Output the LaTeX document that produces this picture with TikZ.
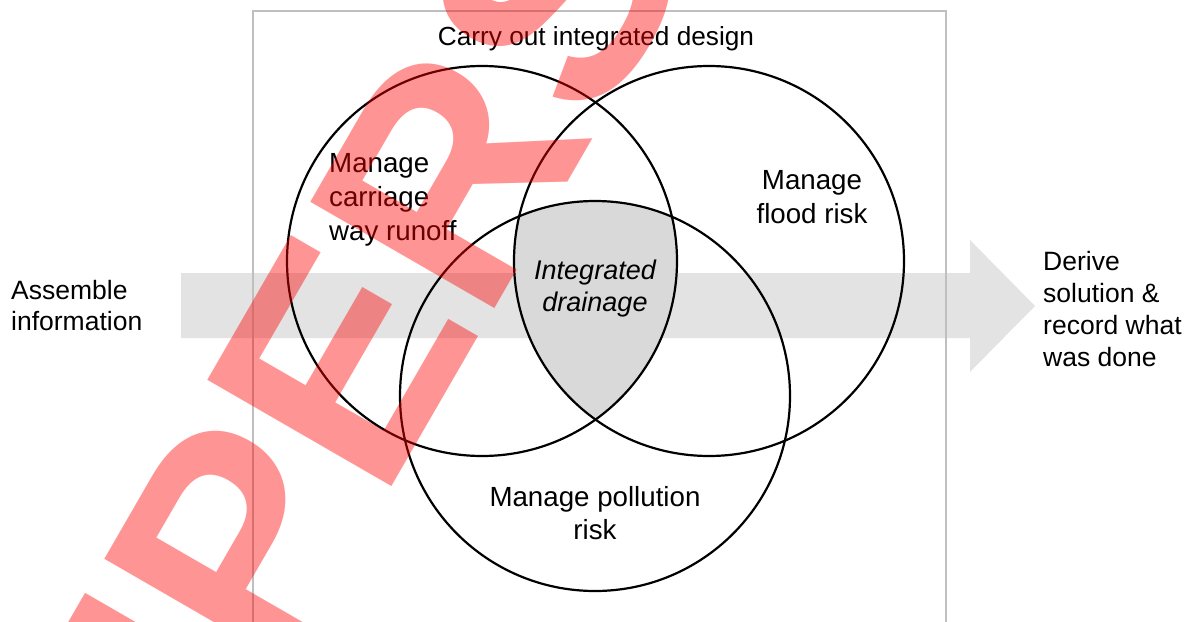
\documentclass[tikz,border=0pt]{standalone}
\usepackage{fontspec}
\setmainfont{Liberation Sans}
\begin{document}
\begin{tikzpicture}[x=1pt,y=-1pt,
  lbl/.style={inner sep=0pt,font=\fontsize{26.5}{33}\selectfont,text=black},
  inlbl/.style={inner sep=0pt,font=\fontsize{27.7}{34}\selectfont,text=black},
  ring/.style={circle,draw=black,line width=2.2pt,minimum size=390pt,inner sep=0pt}]
\useasboundingbox (0,0) rectangle (1198,621);
\begin{scope}
\clip (0,0) rectangle (1198,621);
% flow band arrow
\fill[black!11] (181,273) -- (970,273) -- (970,240) -- (1035,306) -- (970,372) -- (970,338) -- (181,338) -- cycle;
% outer box
\draw[black!25,line width=2pt] (253,640) -- (253,11) -- (946,11) -- (946,640);
% intersection
\begin{scope}
\clip (482,261) circle[radius=195pt];
\clip (709,261) circle[radius=195pt];
\fill[black!15] (595,396) circle[radius=195pt];
\end{scope}
\node[ring] (c1) at (482,261) {};
\node[ring] (c2) at (709,261) {};
\node[ring] (c3) at (595,396) {};
\node[lbl,font=\fontsize{26.2}{33}\selectfont] (title) at (596,39) {Carry out integrated design};
\node[inlbl,align=left,anchor=west] (run) at (329,200) {Manage\\carriage\\way runoff};
\node[inlbl,align=center] (flood) at (812,197) {Manage\\flood risk};
\node[inlbl,align=center,font=\fontsize{27}{32}\selectfont\itshape] (int) at (595,289) {Integrated\\drainage};
\node[inlbl,align=center,font=\fontsize{27.7}{33}\selectfont] (poll) at (595,513) {Manage pollution\\risk};
\node[lbl,align=left,anchor=west,font=\fontsize{26.5}{31}\selectfont] (assem) at (11,306) {Assemble\\information};
\node[lbl,align=left,anchor=west,font=\fontsize{26.5}{32}\selectfont] (derive) at (1043,309) {Derive\\solution \&\\record what\\was done};
% watermark
\node[inner sep=0pt,anchor=base west,rotate=60,text=red,text opacity=0.42,
  font=\fontsize{309}{309}\selectfont\bfseries] (wm) at (64,1055) {SUPERSEDED};
\end{scope}
\end{tikzpicture}
\end{document}
